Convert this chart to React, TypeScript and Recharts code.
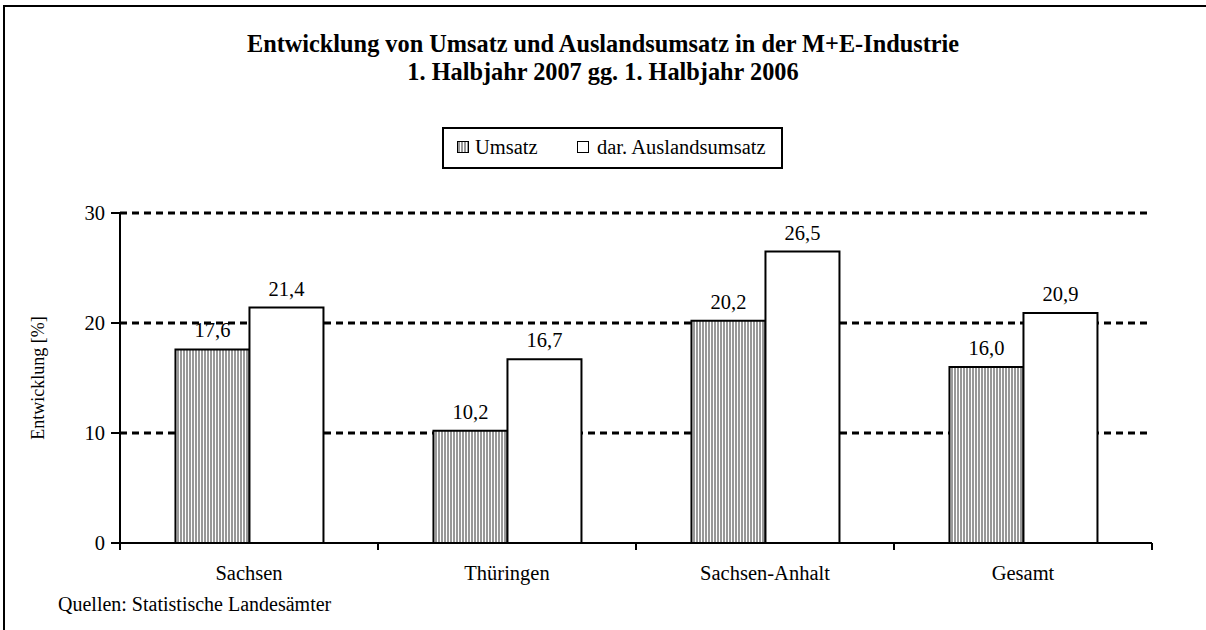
import { Bar, BarChart, CartesianGrid, LabelList, XAxis, YAxis } from 'recharts';

const regions = ['Sachsen', 'Thüringen', 'Sachsen-Anhalt', 'Gesamt'];
const umsatz = [17.6, 10.2, 20.2, 16.0];
const auslandsumsatz = [21.4, 16.7, 26.5, 20.9];
const yTicks = [0, 10, 20, 30];
const gridValues = [10, 20, 30];

const data = regions.map((name, i) => ({
    name,
    umsatz: umsatz[i],
    ausland: auslandsumsatz[i],
}));

const font = '"Liberation Serif", "Times New Roman", serif';
const fmt = (v: any) => Number(v).toFixed(1).replace('.', ',');

function YLabel() {
    return (
        <text x={40} y={378} transform="rotate(-90 40 378)" textAnchor="middle" dominantBaseline="middle"
            fontFamily={font} fontSize={18} fill="#000">
            Entwicklung [%]
        </text>
    );
}

// category label plus tick marks on the category boundaries
function CatTick(props: any) {
    const { x, y, payload, index, visibleTicksCount } = props;
    const half = payload.offset || 0;
    const axisY = y - 22;
    return (
        <g>
            <line x1={x - half} x2={x - half} y1={axisY} y2={axisY + 7} stroke="#000" strokeWidth={2} />
            {index === visibleTicksCount - 1 && (
                <line x1={x + half} x2={x + half} y1={axisY} y2={axisY + 7} stroke="#000" strokeWidth={2} />
            )}
            <text x={x} y={y} dy="0.71em" textAnchor="middle" fontFamily={font} fontSize={20.5} fill="#000">
                {payload.value}
            </text>
        </g>
    );
}

export default function App() {
    return (
        <div style={{ position: 'absolute', left: 0, top: 0, width: 1206, height: 630, background: '#fff', fontFamily: font, overflow: 'hidden' }}>
            {/* frame */}
            <div style={{ position: 'absolute', left: 3, top: 5, width: 1210, height: 640, borderTop: '2px solid #000', borderLeft: '2px solid #000' }} />

            <div style={{ position: 'absolute', left: 0, top: 30, width: 1206, textAlign: 'center', fontWeight: 'bold', fontSize: 24.3, lineHeight: '28px', color: '#000' }}>
                <div>Entwicklung von Umsatz und Auslandsumsatz in der M+E-Industrie</div>
                <div>1. Halbjahr 2007 gg. 1. Halbjahr 2006</div>
            </div>

            <div style={{ position: 'absolute', left: 442, top: 127, width: 337, height: 38, border: '2px solid #000', fontSize: 20.5, lineHeight: '24px', color: '#000' }}>
                <div style={{ position: 'absolute', left: 13, top: 12, width: 10, height: 10, border: '1.5px solid #000',
                    background: 'repeating-linear-gradient(90deg, #999 0px, #999 2px, #fff 2px, #fff 3px)' }} />
                <div style={{ position: 'absolute', left: 31, top: 6 }}>Umsatz</div>
                <div style={{ position: 'absolute', left: 133, top: 12, width: 10, height: 10, border: '1.5px solid #000', background: '#fff' }} />
                <div style={{ position: 'absolute', left: 153, top: 6 }}>dar. Auslandsumsatz</div>
            </div>

            <div style={{ position: 'absolute', left: 58, top: 593, fontSize: 20, color: '#000' }}>
                Quellen: Statistische Landesämter
            </div>

            <div style={{ position: 'absolute', left: 0, top: 0 }}>
                <BarChart width={1206} height={630} data={data} barGap={0} barCategoryGap="21.5%"
                    margin={{ top: 213, right: 54, bottom: 0, left: 60 }}>
                    <defs>
                        <pattern id="vstripe" width={3} height={3} patternUnits="userSpaceOnUse">
                            <rect width={3} height={3} fill="#fff" />
                            <rect width={2} height={3} fill="#999" />
                        </pattern>
                    </defs>
                    <CartesianGrid vertical={false} horizontalValues={gridValues} stroke="#000" strokeWidth={3} strokeDasharray="7 5" />
                    <XAxis dataKey="name" height={87} tickLine={false} tickSize={0} tickMargin={22}
                        axisLine={{ stroke: '#000', strokeWidth: 2 }} tick={<CatTick />} interval={0} />
                    <YAxis width={60} domain={[0, 30]} ticks={yTicks} tickSize={9} tickMargin={6}
                        tickLine={{ stroke: '#000', strokeWidth: 2 }} axisLine={{ stroke: '#000', strokeWidth: 2 }}
                        tick={{ fill: '#000', fontSize: 20.5, fontFamily: font }}
                        label={{ content: () => <YLabel /> }} />
                    <Bar dataKey="umsatz" name="Umsatz" fill="url(#vstripe)" stroke="#000" strokeWidth={2}
                        isAnimationActive={false}>
                        <LabelList dataKey="umsatz" position="top" offset={12} formatter={fmt}
                            fill="#000" fontSize={20.5} fontFamily={font} />
                    </Bar>
                    <Bar dataKey="ausland" name="dar. Auslandsumsatz" fill="#fff" stroke="#000" strokeWidth={2}
                        isAnimationActive={false}>
                        <LabelList dataKey="ausland" position="top" offset={12} formatter={fmt}
                            fill="#000" fontSize={20.5} fontFamily={font} />
                    </Bar>
                </BarChart>
            </div>
        </div>
    );
}
